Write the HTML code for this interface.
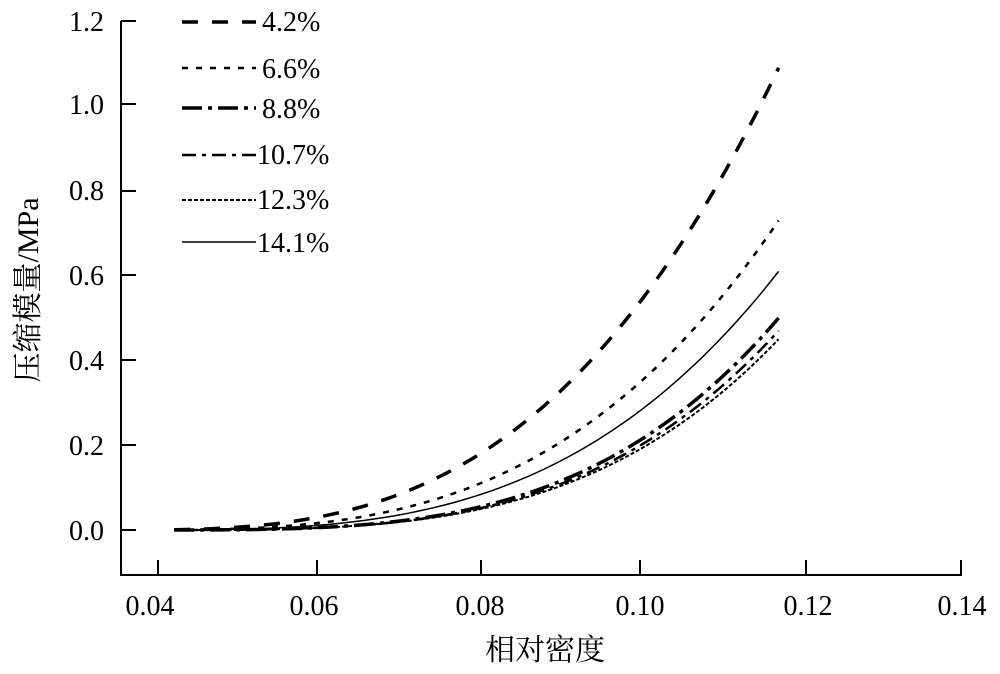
<!DOCTYPE html>
<html><head><meta charset="utf-8"><style>
body{margin:0;background:#fff}
</style></head><body>
<svg id="s" width="1000" height="669" viewBox="0 0 1000 669" font-family="'Liberation Serif', 'Noto Serif CJK SC', serif" style="font-family:'Liberation Serif','Noto Serif CJK SC',serif">
<g stroke="#000" stroke-width="2" fill="none">
<path d="M121,21 V575 H961 V560"/>
<path d="M121,21 H136 M121,104 H136 M121,191 H136 M121,275 H136 M121,360 H136 M121,445 H136 M121,530 H136"/>
<path d="M158,575 V560 M317,575 V560 M481,575 V560 M640,575 V560 M806,575 V560"/>
</g>
<g font-size="28" text-anchor="end">
<text x="104" y="31">1.2</text><text x="104" y="114">1.0</text><text x="104" y="200">0.8</text>
<text x="104" y="285">0.6</text><text x="104" y="370">0.4</text><text x="104" y="455">0.2</text><text x="104" y="540">0.0</text>
</g>
<g font-size="28" text-anchor="middle">
<text x="150" y="615">0.04</text><text x="314" y="615">0.06</text><text x="480" y="615">0.08</text>
<text x="640" y="615">0.10</text><text x="808" y="615">0.12</text><text x="962" y="615">0.14</text>
</g>
<text x="545" y="660" font-size="30" text-anchor="middle">相对密度</text>
<text transform="translate(38,290) rotate(-90)" font-size="30" text-anchor="middle">压缩模量/MPa</text>
<g font-size="28">
<text x="262" y="31">4.2%</text><text x="262" y="78">6.6%</text><text x="262" y="118">8.8%</text>
<text x="257" y="164">10.7%</text><text x="257" y="209">12.3%</text><text x="257" y="252">14.1%</text>
</g>
<g id="c" fill="none" stroke="#000"></g>
</svg>
<script>
var series=[
 [1.09,3.5,"16,14",22,0.035,3],
 [0.73,2.5,"6,8",68,0.036,3.1],
 [0.50,3.5,"20,6,4,6",108,0.038,3.5],
 [0.47,2.5,"14,6,4,6",155,0.038,3.5],
 [0.45,2,"4,2",200,0.038,3.5],
 [0.61,1.5,"",242,0.037,3.2]];
var g=document.getElementById('c'),ns='http://www.w3.org/2000/svg';
function X(x){return 158+(x-0.04)/0.02*161.2}
function Y(y){return 530-y/0.2*84.8}
series.forEach(function(s){
 var x0=s[4],n=s[5],C=s[0]/Math.pow(0.117-x0,n),d='';
 for(var i=0;i<=80;i++){var x=0.042+0.075*i/80,y=C*Math.pow(x-x0,n);d+=(i?'L':'M')+X(x).toFixed(1)+','+Y(y).toFixed(1)}
 var p=document.createElementNS(ns,'path');p.setAttribute('d',d);p.setAttribute('stroke-width',s[1]);if(s[2])p.setAttribute('stroke-dasharray',s[2]);g.appendChild(p);
 var l=document.createElementNS(ns,'path');l.setAttribute('d','M182,'+s[3]+'H256');l.setAttribute('stroke-width',s[1]);if(s[2])l.setAttribute('stroke-dasharray',s[2]);g.appendChild(l);
});
</script>
</body></html>
